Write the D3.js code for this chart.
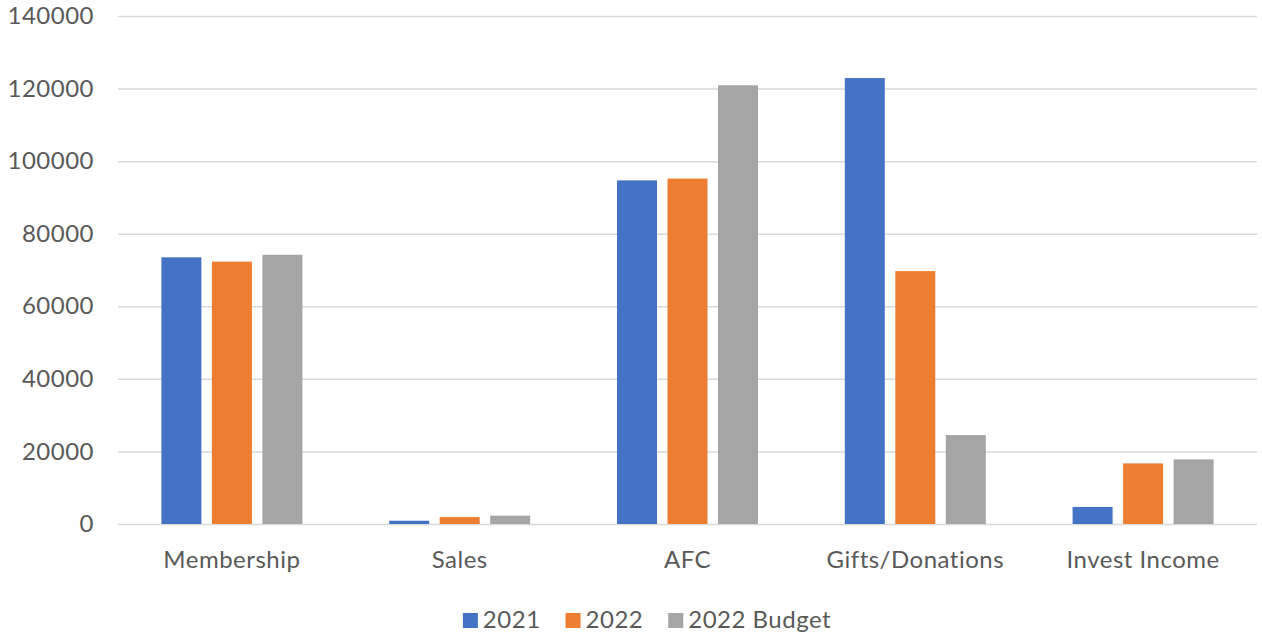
<!DOCTYPE html>
<html>
<head>
<meta charset="utf-8">
<script src="https://cdn.jsdelivr.net/npm/d3@7"></script>
<style>
  body { margin: 0; background: #fff; }
  text { font-family: Lato, "Open Sans", sans-serif; fill: #595959; letter-spacing: 0.5px; }
</style>
</head>
<body>
<script>
// datos
const categorias = ["Membership", "Sales", "AFC", "Gifts/Donations", "Invest Income"];
const series = ["2021", "2022", "2022 Budget"];
const valores2021 = [73500, 900, 94700, 122900, 4700];
const valores2022 = [72300, 1900, 95200, 69700, 16700];
const valoresBudget = [74200, 2300, 120900, 24500, 17800];
const ticksY = [0, 20000, 40000, 60000, 80000, 100000, 120000, 140000];

const colores = ["#4472C4", "#ED7D31", "#A5A5A5"];
const datos = [valores2021, valores2022, valoresBudget];

const width = 1262;
const height = 635;
const margin = { left: 118, right: 5, top: 16, bottom: 111 };

const svg = d3.select("body").append("svg")
    .attr("width", width)
    .attr("height", height);

const x0 = d3.scaleBand()
    .domain(categorias)
    .range([margin.left, width - margin.right])
    .padding(0);

const anchoGrupo = x0.bandwidth() * 0.619;
const x1 = d3.scaleBand()
    .domain(series)
    .range([0, anchoGrupo])
    .paddingInner(0.208)
    .paddingOuter(0);

const y = d3.scaleLinear()
    .domain([0, 140000])
    .range([height - margin.bottom, margin.top]);

// lineas de la cuadricula y etiquetas
const ejeY = d3.axisLeft(y)
    .tickValues(ticksY)
    .tickSize(-(width - margin.right - margin.left))
    .tickPadding(24)
    .tickFormat(d3.format("d"));

svg.append("g")
    .attr("transform", "translate(" + margin.left + ",0)")
    .call(ejeY)
    .call(g => g.select(".domain").remove())
    .call(g => g.selectAll("line").attr("stroke", "#D9D9D9").attr("stroke-width", 1.5))
    .call(g => g.selectAll("text").attr("font-size", 24).style("fill", "#595959"));

// barras
categorias.forEach(function (cat, i) {
    const g = svg.append("g")
        .attr("transform", "translate(" + (x0(cat) + (x0.bandwidth() - anchoGrupo) / 2) + ",0)");
    series.forEach(function (s, j) {
        const v = datos[j][i];
        g.append("rect")
            .attr("x", x1(s))
            .attr("y", y(v))
            .attr("width", x1.bandwidth())
            .attr("height", y(0) - y(v))
            .attr("fill", colores[j]);
    });
});

// eje x (solo etiquetas)
const ejeX = d3.axisBottom(x0).tickSize(0).tickPadding(27);
svg.append("g")
    .attr("transform", "translate(0," + y(0) + ")")
    .call(ejeX)
    .call(g => g.select(".domain").remove())
    .call(g => g.selectAll("text").attr("font-size", 24).style("fill", "#595959"));

// leyenda
const leyenda = svg.append("g");
let xl = 0;
series.forEach(function (s, j) {
    const item = leyenda.append("g").attr("transform", "translate(" + xl + ",0)");
    item.append("rect")
        .attr("x", 0).attr("y", -14)
        .attr("width", 15).attr("height", 15)
        .attr("fill", colores[j]);
    const t = item.append("text")
        .attr("x", 20).attr("y", 1)
        .attr("font-size", 24)
        .text(s);
    xl += 20 + t.node().getComputedTextLength() + 25;
});
const anchoLeyenda = xl - 25;
leyenda.attr("transform", "translate(" + (647 - anchoLeyenda / 2) + ",627)");
</script>
</body>
</html>
